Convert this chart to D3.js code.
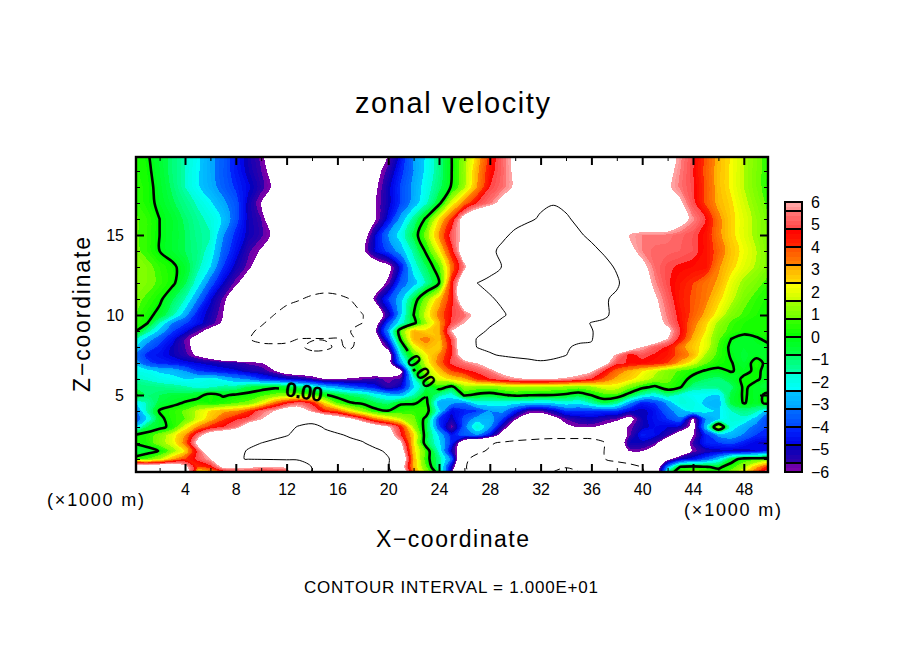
<!DOCTYPE html>
<html><head><meta charset="utf-8">
<script src="https://cdn.jsdelivr.net/npm/d3@7"></script>
<style>html,body{margin:0;padding:0;background:#fff}svg{display:block}
text{font-family:"Liberation Sans",sans-serif;fill:#000}</style></head>
<body><svg id="c" width="904" height="654"></svg>
<script>
// grid coordinates (km)
const xCols = d3.range(0, 51);
const zRows = [20,19,18,17,16,15,14,13,12,11,10,9.5,9,8.5,8,7.5,7,6.5,6,5.5,5,4.5,4,3.5,3,2.5,2,1.5,1,.5,0];
// zonal velocity, one row per zRows entry, columns x = 0..50
const zonal = [
[.5,.1,-.5,-1,-1.6,-2.3,-3,-3.6,-4.4,-5.1, -5.8,-7,-8,-8,-8,-8,-8,-8,-8,-7.2, -6,-4.6,-3.2,-2.3,-1.2,0,1.2,2.6,4.2,5.3, 6.3,7.5,8,8,8,8,8,8,8,8, 8,7.5,6.6,5.7,4.8,3.8,2.9,2.3,1.6,1, .5],
[.5,.2,-.4,-1,-1.6,-2.3,-3,-3.6,-4.3,-5, -5.6,-6.5,-8,-8,-8,-8,-8,-8,-8,-6.5, -5.4,-4.2,-3.2,-2.2,-1.2,0,1.4,3,4.5,5.3, 6.3,7.5,8,8,8,8,8,8,8,8, 8,7.5,6.4,5.6,4.8,3.8,2.9,2.3,1.6,1, .5],
[.6,.3,-.3,-.9,-1.6,-2.3,-2.9,-3.5,-4.1,-4.7, -5.4,-6.2,-8,-8,-8,-8,-8,-8,-8,-6.2, -5,-3.9,-3,-2,-1,.1,1.5,3.2,4.8,5.4, 6.2,7.5,8,8,8,8,8,8,8,8, 8,7.5,6.2,5.5,4.9,3.9,2.9,2.3,1.6,1, .5],
[.7,.3,-.2,-.7,-1.2,-1.7,-2.3,-3,-3.7,-5, -6,-7.5,-8,-8,-8,-8,-8,-8,-8,-6, -5,-3.9,-2.9,-1.7,-.3,2,3.5,4.8,5.5,6.5, 8,9,9.7,9.85,9.5,9,8.5,8,8,8, 8,8,7.2,6.2,5,3.9,3,2.5,1.8,1.2, .6],
[.9,.6,0,-.4,-.9,-1.4,-1.8,-2.5,-3.7,-5, -5.6,-7,-8,-8,-8,-8,-8,-8,-8,-6.1, -4.6,-2.9,-1.3,.2,2.4,4.2,6.8,8,8.5,9, 9.3,9.7,10.2,10.9,10.3,9.5,9,8.5,8,8, 8,8,8,6.6,5.7,4.8,3.4,2.6,2,1.4, .8],
[.9,.6,0,-.4,-.8,-1.3,-1.6,-3.1,-4.2,-5, -5.5,-6.2,-8,-8,-8,-8,-8,-8,-6.8,-4.8, -3.2,-2,-.6,1.2,3.2,5.2,6.4,8,9,9.6, 10.4,11,11.5,11.5,11,10.3,9.5,9,8,6, 5.6,5.6,5.5,5.3,5,4.5,3.4,2.6,2,1.4, .9],
[1,.6,0,-.4,-.8,-1.2,-1.9,-3.5,-4.5,-5.5, -6.1,-7,-8,-8,-8,-8,-8,-7.5,-6.3,-4.7, -3.8,-2.8,-1.4,.2,2.2,4.5,7,8.5,9.5,10.5, 11,12,12,12,12,11.5,10.6,9.7,8.5,6.4, 5.6,5.3,5.3,5.2,5,4.5,3.7,2.8,2.2,1.6, 1],
[1.2,1,.6,.2,-.4,-1.4,-2.4,-4,-5,-5.8, -6.8,-8,-8.5,-8.5,-8.5,-8.5,-8.5,-8.5,-8,-7, -6.4,-4.5,-2,-.8,.7,3.5,5.7,7.5,9,10.1, 11,12,12.5,12.5,12.5,12,11.5,10.8,9.7,8, 6.4,5.4,4.9,4.7,4.6,4.5,3.3,2.6,2,1.5, 1],
[1.3,1,.7,.2,-.7,-2,-3.6,-4.8,-5.8,-6.8, -7.5,-9,-9,-9,-9,-9,-9,-9,-8,-6.8, -5.8,-3.6,-2.8,-1.4,0,4.5,7.5,10,10.7,11, 12,12.5,13,13,13,12.5,12,11.5,10.4,8.5, 6.8,5.7,4.9,4.4,4,3.5,3.1,2.1,1.4,1, .6],
[1,.7,.2,-.7,-1.6,-3.2,-4.7,-5.7,-7,-8, -8.5,-9,-9.6,-9.9,-10.3,-10.6,-10.4,-10,-7.5,-5.7, -4,-2.7,-.6,1.2,2.8,4.5,7.5,8.7,9.7,10.5, 11,11.5,12,12,12,11.5,11,10.3,9.5,9, 7.5,6.2,5.2,4.3,3.9,3.4,2.6,1.8,1,.6, .3],
[.8,.3,-.3,-1.4,-2.9,-4.4,-5.1,-6,-7,-8, -9,-10,-10.6,-11,-11.5,-11.5,-11.3,-10.8,-10.1,-7.2, -5.2,-2.5,0,2,3.5,4.8,5.4,6.5,8,9.7, 10.8,11.5,12,12,12,11.5,11,10.3,9.5,8.5, 7.5,6.5,5.5,4.5,3.8,3,2.1,1.1,.7,.4, .3],
[.6,.1,-1.6,-3.2,-3.9,-4.5,-5.3,-6.2,-7,-8, -9.7,-10.8,-11.5,-12,-12,-12,-11.5,-10.8,-10,-6.7, -3.8,-1.9,-.3,1.5,3,5,6,7.5,9.5,10.6, 11,11.5,12,12,12,10.7,9.9,9.7,9,8.5, 7.5,6.7,5.7,4.6,3.5,2.6,1.4,.7,.4,.3, .3],
[.2,-1.2,-2.6,-3.9,-4.6,-5.6,-6.5,-7.5,-8.5,-9.5, -10.5,-11.5,-12,-12.5,-12.5,-12,-11.5,-10.1,-8,-6, -3,.8,3,2.6,3,6,7.5,9,10.5,11, 11.5,12,12,12,11.5,10.8,10.1,9.3,9,8.5, 7.5,7,6.4,4.8,3.3,2.4,1.1,.6,.3,.3, .3],
[-1.4,-2.7,-3.7,-4.5,-5.6,-6.5,-7.5,-8.5,-9.3,-9.9, -10.5,-11,-10.7,-9.9,-9.8,-9.9,-9.8,-10.5,-9,-7, -4,.3,3,3.4,2.8,5,7.5,10.2,11,11.5, 11.5,11.5,11.5,11,10.7,10.4,10.1,9,8.5,8, 7.5,7,6,4.5,3,2.1,.9,0,-.4,-.1, .2],
[-2.2,-3.5,-4.2,-4.9,-5.6,-6.5,-7.5,-8.5,-9,-9.5, -9.5,-9.3,-9.3,-9.6,-10.6,-10.4,-9.7,-10.3,-9,-7, -5.5,-1,2,3,2.6,4.8,7.5,10.1,10.6,11, 11,11,11,10.7,10.2,9.7,9.8,9,8,7, 6,5.2,4.7,3.5,2.7,2.1,.7,-.2,-.4,-.3, -.2],
[-3.1,-4.2,-4.5,-4.9,-5.4,-6.2,-7,-8,-8.5,-9, -9,-9,-9,-9,-9.3,-9.4,-9.2,-9,-8.5,-8, -7,-2,.7,2.3,3.3,4.8,7,8.5,9.7,10.3, 10.5,10.5,10.5,10.3,10.05,9,8,7,5.8,4.6, 5,4.7,4.4,3.7,3,1.5,.6,-.1,-.5,-.2, -.3],
[-2.6,-3.8,-4.2,-4.4,-4.6,-4.8,-5,-5.2,-5.4,-5.7, -5.9,-7,-8,-8.5,-8.5,-8.5,-8.5,-8.5,-8,-7.5, -6.8,-3,-.3,2,3.5,5,5.5,6,7,8, 9,9.5,9.8,9.7,9,8,7,6.5,5,4.7, 4.6,4.5,4,3,2,.9,.3,.05,-.4,.3, -.3],
[-2,-2.1,-2.5,-2.6,-3.2,-4,-4.3,-4.5,-4.7,-5.1, -5.3,-5.9,-6.8,-7,-7,-7,-7,-7,-7,-7, -7,-6.3,-.5,1.3,2.8,4,4.6,5,5.6,6.5, 7,7,7,7.3,7,6.7,6.2,4.8,3.6,3, 2.4,1.8,1.1,.7,.3,-.1,-.2,.05,-.2,.15, -.3],
[-1.5,-1.7,-2,-2.2,-2.4,-2.2,-2,-2.5,-3,-3.3, -4,-4.4,-4.7,-5,-5.5,-6,-6,-5.9,-5.7,-5.5, -5.7,-5.5,-2,1,2,2.6,3,4.2,4.8,5.3, 5.8,6,6,6,5.8,5.4,4.8,3.8,3,2.6, 2,1.4,1,.4,-.3,-.8,-1,-.4,.15,.1, -.3],
[-1,-1.1,-1.2,-1.3,-1.5,-1.8,-1.7,-1.4,-1.3,-.7, -.4,-.2,-.4,-1,-1.6,-2.5,-3,-3.6,-4,-4.5, -5.5,-4.8,-2.5,-.7,.5,-.3,1.3,1.2,1.1,1.4, 1.6,1.5,1.5,1.4,1.3,1.1,1.4,2,2,1.1, .3,-.2,.6,.1,-1.2,-1.3,-1.2,-1,.15,-.3, -.7],
[.2,-1,-.8,-.6,-.5,-.3,.3,-.1,.1,.3, .6,1,1.2,1.2,.8,.1,-.4,-.9,-1.2,-2, -2.6,-2.8,-1.6,-.1,-1.3,-2,.2,-.2,-.4,-.1, .2,.1,.05,0,-.2,-.5,.05,.6,.6,-.4, -1.6,-2,-1.2,-1.8,-2.2,-2.3,-2.4,-.6,.1,-.3, .3],
[-2.5,-1.5,-.6,-.3,.1,.4,.2,.4,.8,1, 2,3.5,4.6,5.3,4.6,2.5,.8,.1,-.2,-.7, -1,-.1,-.1,.3,-3,-3,-3.2,-2,-2,-2, -2.2,-2.3,-2.4,-2.3,-2,-2.2,-1.5,-.6,-1.3,-3, -4.3,-4,-3,-1.7,-1.9,-2.6,-2.8,-.6,.05,-.3, .3],
[-3.6,-1.5,.1,.5,.9,1.8,2.5,3,3.2,4, 5.3,6,7,6.8,5.7,4.4,3.8,2.4,1.3,.3, .05,.4,.6,.5,-2.2,-4.7,-4.2,-4,-3.2,-3, -4.2,-5.6,-5.7,-5,-4,-4,-4,-4,-4,-4.7, -5,-4.5,-3.5,-2.8,-2,-2.2,-2.5,-1.6,-1.2,-1.5, -3],
[-4,-2.3,-.3,.5,.8,1.9,2.8,3.9,4.7,5.1, 5.9,7.5,8.5,9,9,8,7.2,6.3,5,3.5, 2.6,1.7,1,-.3,-4,-5,-3.8,-2.8,-2.8,-4, -5.9,-6.8,-7,-6.5,-5.6,-5.2,-5,-5.4,-5.7,-6.5, -5,-4.5,-4,-3.3,-6.2,-3.2,-2.5,-1.7,-1.8,-2.8, -4.2],
[-2.6,-.8,-.3,.3,2,3.3,4.3,4.8,5.5,7, 8,8.5,9.4,10.2,10.7,9.8,9,8.5,8,7, 6.2,4.5,1.5,-.5,-3.8,-5.8,-3.5,-1.6,-3,-5.3, -7,-8,-8,-7.5,-6.3,-5.9,-5.9,-6.3,-7,-5.8, -5,-4.6,-4.8,-5,-6.5,-2.6,1.6,-2,-2.8,-3.5, -4],
[.05,.4,1.1,2,3.2,5.4,7,7.5,8,8.5, 9,9.5,9.9,10.5,10.8,10.6,10.3,9.7,9,8.2, 7,4.8,2.6,-.6,-2.5,-4.4,-3.6,-3.2,-4.5,-6.8, -8,-8.5,-9,-9.2,-9.2,-9.2,-9.3,-9.3,-7.5,-5.7, -4.3,-4.6,-5.4,-7,-6.1,-4.2,-3,-2.7,-3.3,-4, -4.1],
[.1,.4,1.2,2,3.5,6.5,8,8.5,9,9.5, 10,10.4,10.7,11,11,11,11,10.6,10.2,9, 8,6.2,2.5,-.6,-2.2,-4.2,-7.5,-8.5,-9.7,-10.4, -10.8,-11,-11,-11,-11,-11,-10.8,-10.1,-7.5,-5, -5,-5.6,-7.5,-7.5,-5.5,-4.2,-4,-3.8,-4.3,-4.8, -5],
[-.8,-.4,.05,1.2,2.5,5,7.5,8.5,9.3,10.2, 10.5,10.8,11,11,11,11,11,11,10.8,10.6, 9.5,7,2.7,.6,-1.8,-5,-7.5,-9.5,-10.3,-11, -11.5,-11.5,-11.5,-11.5,-11.5,-11,-10.8,-10,-8,-5.9, -5.9,-7,-8,-7.5,-5.8,-5.2,-5,-5,-5,-4.8, -4.5],
[.3,.8,1.6,3,4,5,6,8,9.8,10.1, 10.2,10.3,10.4,10.5,11,11,11,11,11,10.8, 10.2,8,3,.4,-1.2,-3.5,-9.5,-10.8,-11.5,-11.5, -11.5,-11.5,-11.5,-11.5,-11.5,-11.5,-11,-10.1,-9,-8.5, -8,-7,-6.5,-5,-4.5,-3.7,-2.5,-.5,.4,.5, .5],
[8,8,8,8,6.5,4,4.5,6.3,6.3,6.2, 6,6.1,6.4,7.5,10.1,10.5,10.8,10.8,10.8,10.5, 10.2,7,3,.8,-1.2,-5,-9.8,-11,-12,-12.5, -12.5,-13,-13,-14,-19,-14,-13,-13,-12,-11, -10,-8,-3,.1,.4,.1,-.2,.5,1.5,3, 4.5],
[8,8,8,8,8,1.5,2,3,4,4.2, 3.5,3.5,4,8,10.2,11,11,11,11,11, 11,8,4,1.5,-.3,-6,-9.5,-11,-12,-13, -13,-14,-14,-24,-30,-24,-14,-13,-12,-11, -10.5,-9,-.5,.8,1.5,1.2,.7,1.5,2.5,4.5, 5.5]
];

const xMajor = d3.range(4,49,4), xMinor = d3.range(2,50,4);
const zMajor = [5,10,15], zMinor = d3.range(1,20).filter(d=>d%5);
const legendTicks = d3.range(-6,7);
const bandStep = .2, bandLevels = d3.range(0,60).map(i=>-6+i*bandStep);
const legendBreaks = d3.range(-7,8).map(i=>i*.8);
const lineLevels = [{v:0,w:2.6,dash:null},{v:10,w:1,dash:null},{v:-10,w:1,dash:"8 5"},{v:-20,w:1,dash:"8 5"}];
const colorStops = [[-6,130,0,170],[-5.6,100,0,170],[-5.59,50,0,170],[-4.8,0,0,190],[-4.79,0,0,230],[-4,0,40,255],[-3.99,0,70,255],[-3.2,0,110,255],[-3.19,0,165,255],[-2.4,0,195,255],[-2.39,0,255,255],[-1.6,0,255,215],[-1.59,0,255,170],[-.8,0,255,100],[-.79,0,255,70],[0,0,255,20],[.01,0,255,0],[.8,60,255,0],[.81,110,255,0],[1.6,160,255,0],[1.61,200,255,0],[2.4,255,255,0],[2.41,255,220,0],[3.2,255,170,0],[3.21,255,130,0],[4,255,80,0],[4.01,255,40,0],[4.8,255,0,0],[4.81,255,70,70],[5.6,255,120,120],[5.61,255,140,140],[6,255,170,170]];
const color = d3.scaleLinear().domain(colorStops.map(d=>d[0])).range(colorStops.map(d=>`rgb(${d[1]},${d[2]},${d[3]})`));

const svg = d3.select("#c");
const x = d3.scaleLinear().domain([(136-134.2)/12.7,(768-134.2)/12.7]).range([136,768]);
const z = d3.scaleLinear().domain([(475-472)/16,(475-157)/16]).range([472,157]);
const rowZ = d3.scaleLinear().domain(d3.range(zRows.length)).range(zRows);
const flat = zonal.flat();
const contours = d3.contours().size([xCols.length,zRows.length]);
// contour rings in grid space -> pixel space, rounded with a closed Catmull-Rom curve
const ringLine = d3.line().x(p=>x(p[0]-.5)).y(p=>z(rowZ(p[1]-.5))).curve(d3.curveCatmullRomClosed.alpha(.5));
const path = g => g.coordinates.flatMap(poly=>poly.map(r=>ringLine(r.slice(0,-1)))).join("");

const defs = svg.append("defs");
defs.append("clipPath").attr("id","plot").append("rect").attr("x",136).attr("y",157).attr("width",632).attr("height",315);
const mask = defs.append("mask").attr("id","gaps").attr("maskUnits","userSpaceOnUse").attr("x",0).attr("y",0).attr("width",904).attr("height",654);
mask.append("rect").attr("width",904).attr("height",654).attr("fill","#fff");
mask.append("rect").attr("x",279).attr("y",378).attr("width",48).attr("height",30).attr("fill","#000");
mask.append("rect").attr("x",-24).attr("y",-11).attr("width",48).attr("height",22).attr("fill","#000").attr("transform","translate(421,371) rotate(55)");

const plot = svg.append("g").attr("clip-path","url(#plot)");
plot.append("g").attr("shape-rendering","crispEdges").selectAll("path")
  .data(contours.thresholds(bandLevels)(flat)).join("path")
  .attr("d",path).attr("fill",d=>color(d.value+bandStep/2));
plot.append("path").attr("shape-rendering","crispEdges").attr("fill","#fff")
  .attr("d",path(contours.thresholds([6])(flat)[0]));
const lines = plot.append("g");
lineLevels.forEach(l=>{
  lines.append("path").attr("d",path(contours.thresholds([l.v])(flat)[0]))
   .attr("fill","none").attr("stroke","#000").attr("stroke-width",l.w)
   .attr("stroke-dasharray",l.dash).attr("mask",l.v===0?"url(#gaps)":null);
});

// contour labels
svg.append("text").text("0.00").attr("transform","translate(303,399) rotate(9)")
  .attr("text-anchor","middle").attr("font-size",21).attr("textLength",38).attr("font-weight","bold");
svg.append("text").text("0.00").attr("transform","translate(416,375) rotate(55)")
  .attr("text-anchor","middle").attr("font-size",19).attr("textLength",36).attr("font-weight","bold");

// axes
function ax(gen,scale,vals,size,tx,ty,fmt,pad){
  const a = gen(scale).tickValues(vals).tickSizeInner(size).tickSizeOuter(0).tickPadding(pad||0)
    .tickFormat(fmt||(()=> ""));
  const g = svg.append("g").attr("transform",`translate(${tx},${ty})`).call(a);
  g.select(".domain").remove();
  g.selectAll("line").attr("stroke","#000").attr("stroke-width",Math.abs(size)>5?2:1);
  g.attr("font-family",null).attr("font-size",16);
  return g;
}
const ifmt = d3.format("d");
ax(d3.axisBottom,x,xMajor,-8,0,472,ifmt,12);
ax(d3.axisBottom,x,xMinor,-4,0,472);
ax(d3.axisTop,x,xMajor,-8,0,157);
ax(d3.axisTop,x,xMinor,-4,0,157);
ax(d3.axisLeft,z,zMajor,-8,136,0,ifmt,12);
ax(d3.axisLeft,z,zMinor,-4,136,0);
ax(d3.axisRight,z,zMajor,-8,768,0);
ax(d3.axisRight,z,zMinor,-4,768,0);
svg.append("rect").attr("x",136).attr("y",157).attr("width",632).attr("height",315)
  .attr("fill","none").attr("stroke","#000").attr("stroke-width",2.4);

// legend
const ly = d3.scaleLinear().domain([-6,6]).range([472,202]);
const lg = svg.append("g").attr("shape-rendering","crispEdges");
lg.selectAll("rect.b").data(bandLevels).join("rect").attr("class","b")
  .attr("x",785).attr("width",17).attr("y",d=>ly(d+bandStep)).attr("height",d=>ly(d)-ly(d+bandStep)+.5)
  .attr("fill",d=>color(d+bandStep/2));
lg.selectAll("line").data(legendBreaks).join("line")
  .attr("x1",784).attr("x2",803).attr("y1",d=>ly(d)).attr("y2",d=>ly(d)).attr("stroke","#000").attr("stroke-width",2);
lg.append("rect").attr("x",785).attr("y",202).attr("width",17).attr("height",270)
  .attr("fill","none").attr("stroke","#000").attr("stroke-width",2);
const la = svg.append("g").attr("transform","translate(802,0)")
  .call(d3.axisRight(ly).tickValues(legendTicks).tickSize(0).tickPadding(9).tickFormat(ifmt));
la.select(".domain").remove();
la.attr("font-family",null).attr("font-size",16);

// texts
function label(t,px,py,size,w,rot){
  const s = svg.append("text").text(t).attr("font-size",size).attr("text-anchor","middle")
    .attr("textLength",w).attr("lengthAdjust","spacing");
  s.attr("transform",`translate(${px},${py})`+(rot?` rotate(${rot})`:""));
}
label("zonal velocity",452.5,113,29,195);
label("X\u2212coordinate",452.5,547,23,153);
label("Z\u2212coordinate",90,314.5,23,155,-90);
label("CONTOUR INTERVAL = 1.000E+01",451,593,17,294);
label("(\u00d71000 m)",95.5,506,18,97);
label("(\u00d71000 m)",732.5,516,18,97);
</script></body></html>
